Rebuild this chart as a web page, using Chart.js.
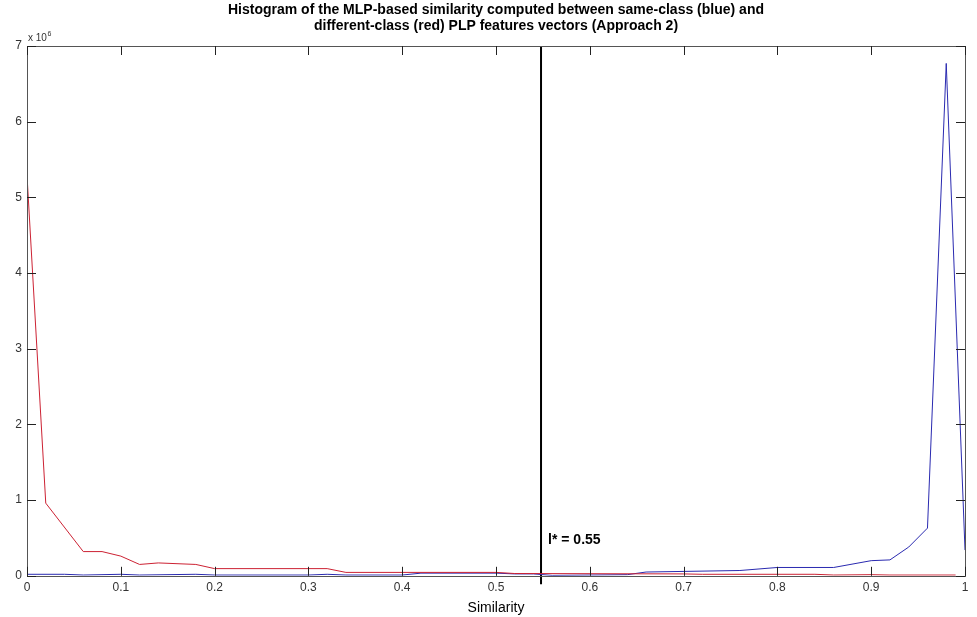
<!DOCTYPE html>
<html>
<head>
<meta charset="utf-8">
<script src="https://cdn.jsdelivr.net/npm/chart.js@4/dist/chart.umd.min.js"></script>
<style>
  html, body { margin: 0; padding: 0; background: #fff; }
  #wrap { width: 977px; height: 617px; position: relative; }
</style>
</head>
<body>
<div id="wrap"><canvas id="c" width="977" height="617"></canvas></div>
<script>
// Values in units of 10^6
const redX  = [0, 0.02, 0.06, 0.08, 0.10, 0.12, 0.14, 0.18, 0.20, 0.32, 0.34, 0.50, 0.52, 0.70, 0.72, 0.84, 0.86, 0.90, 0.92, 0.99];
const redY  = [5.29, 0.96, 0.32, 0.32, 0.26, 0.15, 0.17, 0.15, 0.095, 0.095, 0.045, 0.045, 0.03, 0.025, 0.02, 0.02, 0.01, 0.015, 0.01, 0.01];
const blueX = [0, 0.04, 0.06, 0.10, 0.12, 0.18, 0.20, 0.30, 0.32, 0.34, 0.40, 0.42, 0.50, 0.52, 0.54, 0.56, 0.64, 0.66, 0.76, 0.80, 0.86, 0.90, 0.92, 0.94, 0.96, 0.98, 1.0];
const blueY = [0.02, 0.02, 0.01, 0.02, 0.01, 0.02, 0.01, 0.01, 0.02, 0.01, 0.01, 0.035, 0.035, 0.025, 0.025, 0.005, 0.015, 0.05, 0.07, 0.11, 0.11, 0.2, 0.21, 0.38, 0.63, 6.77, 0.34];
const thresholdX = [0.548, 0.548];
const thresholdY = [-0.11, 7];
const thresholdLabel = "l* = 0.55";
const xTicks = [0, 0.1, 0.2, 0.3, 0.4, 0.5, 0.6, 0.7, 0.8, 0.9, 1];
const yTicks = [0, 1, 2, 3, 4, 5, 6, 7];
const titleLines = [
  "Histogram of the MLP-based similarity computed between same-class (blue) and",
  "different-class (red) PLP features vectors (Approach 2)"
];
const xLabel = "Similarity";

const toPts = (xs, ys) => xs.map((x, i) => ({ x: x, y: ys[i] }));

const frameAndTicks = {
  id: 'frameAndTicks',
  afterDatasetsDraw(chart) {
    const { ctx, chartArea: a, scales } = chart;
    const xs = scales.x, ys = scales.y;
    ctx.save();
    ctx.strokeStyle = '#555';
    ctx.lineWidth = 1;
    ctx.strokeRect(Math.round(a.left) + 0.5, Math.round(a.top) + 0.5, Math.round(a.right - a.left), Math.round(a.bottom - a.top));
    ctx.strokeStyle = '#222';
    const L = 9;
    ctx.beginPath();
    xTicks.forEach(v => {
      const px = Math.round(xs.getPixelForValue(v)) + 0.5;
      ctx.moveTo(px, a.bottom); ctx.lineTo(px, a.bottom - L);
      ctx.moveTo(px, a.top); ctx.lineTo(px, a.top + L);
    });
    yTicks.forEach(v => {
      const py = Math.round(ys.getPixelForValue(v)) + 0.5;
      ctx.moveTo(a.left, py); ctx.lineTo(a.left + L, py);
      ctx.moveTo(a.right, py); ctx.lineTo(a.right - L, py);
    });
    ctx.stroke();
    // title centered over the plot area
    ctx.fillStyle = '#000';
    ctx.font = 'bold 14px "Liberation Sans", Arial, sans-serif';
    ctx.textAlign = 'center';
    ctx.textBaseline = 'middle';
    const cx = (a.left + a.right) / 2;
    ctx.fillText(titleLines[0], cx, a.top - 35.5);
    ctx.fillText(titleLines[1], cx, a.top - 19.5);
    // exponent label
    ctx.fillStyle = '#333';
    ctx.font = '10px "Liberation Sans", Arial, sans-serif';
    ctx.textBaseline = 'alphabetic';
    ctx.textAlign = 'left';
    ctx.fillText('x 10', a.left + 1, a.top - 5);
    const w = ctx.measureText('x 10').width;
    ctx.font = '7px "Liberation Sans", Arial, sans-serif';
    ctx.fillText('6', a.left + 1 + w + 0.5, a.top - 10);
    // threshold label
    ctx.fillStyle = '#000';
    ctx.font = 'bold 14px "Liberation Sans", Arial, sans-serif';
    ctx.textBaseline = 'middle';
    ctx.fillText(thresholdLabel, xs.getPixelForValue(0.5555), ys.getPixelForValue(0.47));
    ctx.restore();
  }
};

new Chart(document.getElementById('c'), {
  type: 'scatter',
  data: {
    datasets: [
      { data: toPts(redX, redY), showLine: true, borderColor: '#cc2233', borderWidth: 1, pointRadius: 0, tension: 0 },
      { data: toPts(blueX, blueY), showLine: true, borderColor: '#2a2ab0', borderWidth: 1, pointRadius: 0, tension: 0 },
      { data: toPts(thresholdX, thresholdY), showLine: true, borderColor: '#000', borderWidth: 2, pointRadius: 0, clip: false }
    ]
  },
  options: {
    responsive: false,
    animation: false,
    events: [],
    layout: { padding: { left: 0, right: 12, top: 46, bottom: 0 } },
    plugins: {
      legend: { display: false },
      tooltip: { enabled: false },
      title: { display: false }
    },
    scales: {
      x: {
        type: 'linear', min: 0, max: 1,
        afterBuildTicks: s => { s.ticks = xTicks.map(v => ({ value: v })); },
        grid: { display: false, drawTicks: false },
        border: { display: false },
        ticks: {
          padding: 5, color: '#333',
          font: { family: '"Liberation Sans", Arial, sans-serif', size: 12 },
          callback: v => String(v)
        },
        title: {
          display: true, text: xLabel, color: '#000',
          font: { family: '"Liberation Sans", Arial, sans-serif', size: 14 },
          padding: { top: 0, bottom: 0 }
        }
      },
      y: {
        type: 'linear', min: 0, max: 7,
        afterBuildTicks: s => { s.ticks = yTicks.map(v => ({ value: v })); },
        afterFit: s => { s.width = 27; },
        grid: { display: false, drawTicks: false },
        border: { display: false },
        ticks: {
          padding: 5, color: '#333',
          font: { family: '"Liberation Sans", Arial, sans-serif', size: 12 },
          callback: v => String(v)
        }
      }
    }
  },
  plugins: [frameAndTicks]
});
</script>
</body>
</html>
